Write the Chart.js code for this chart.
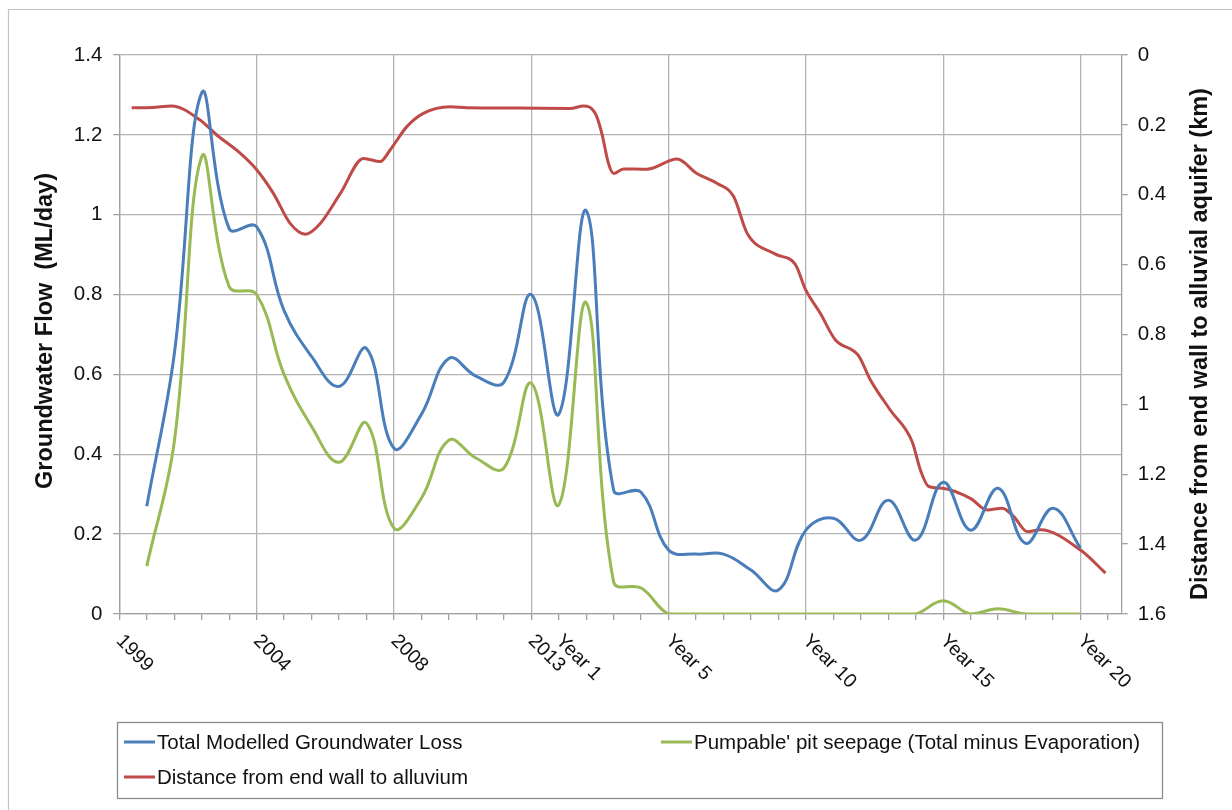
<!DOCTYPE html>
<html>
<head>
<meta charset="utf-8">
<script src="https://cdn.jsdelivr.net/npm/chart.js@4.4.1/dist/chart.umd.min.js"></script>
<style>
  html, body { margin: 0; padding: 0; background: #ffffff; }
  #wrap { position: relative; width: 1232px; height: 810px; }
  canvas { display: block; }
</style>
</head>
<body>
<div id="wrap"><canvas id="c" width="1232" height="810"></canvas></div>
<script>
// ---------- data ----------
// category steps along the x axis (1999 = step 0)
const steps = [1,2,3,4,5,6,7,8,9,10,11,12,13,14,15,16,17,18,19,20,21,22,23,24,25,26,27,28,29,30,31,32,33,34,35];
// Total Modelled Groundwater Loss (ML/day)
const totalLoss = [0.27,0.65,1.305,0.965,0.97,0.76,0.645,0.57,0.665,0.415,0.50,0.64,0.595,0.58,0.80,0.50,1.01,0.31,0.305,0.16,0.15,0.15,0.11,0.06,0.21,0.24,0.185,0.285,0.185,0.33,0.21,0.315,0.177,0.265,0.165];
// Pumpable pit seepage (ML/day)
const pitSeepage = [0.12,0.43,1.145,0.82,0.80,0.60,0.47,0.38,0.478,0.215,0.29,0.435,0.39,0.365,0.578,0.273,0.78,0.08,0.065,0,0,0,0,0,0,0,0,0,0,0.033,0,0.013,0,0,0];
// Distance from end wall to alluvium (km) - sampled positions and values
const distanceSteps = [0.45,1.2,1.91,2.94,3.55,4.40,5.01,5.61,6.22,6.77,7.32,8.05,8.89,9.50,9.86,10.47,11.07,12.05,12.66,14.5,16.42,16.90,17.33,17.57,17.81,18.0,18.36,19.21,20.31,21.03,21.76,22.37,22.86,23.89,24.62,24.98,25.53,26.07,26.91,27.35,28.07,28.87,29.17,29.47,29.96,30.99,31.60,32.15,32.57,33.06,33.54,35.0,35.91];
const distanceKm = [0.151,0.150,0.146,0.186,0.229,0.281,0.329,0.396,0.482,0.513,0.482,0.396,0.296,0.305,0.272,0.205,0.167,0.148,0.151,0.152,0.153,0.146,0.167,0.224,0.31,0.339,0.326,0.327,0.298,0.339,0.367,0.405,0.51,0.57,0.6,0.67,0.74,0.815,0.86,0.93,1.016,1.107,1.188,1.235,1.24,1.269,1.302,1.297,1.321,1.364,1.359,1.417,1.483];
// x axis tick labels and their steps
const xTickLabels = ['1999','2004','2008','2013','Year 1','Year 5','Year 10','Year 15','Year 20'];
const xTickSteps = [0,5,10,15,16,20,25,30,35];
// y axis tick labels (by tick value, 0.2 apart)
const leftTickLabels = ['0','0.2','0.4','0.6','0.8','1','1.2','1.4'];
const rightTickLabels = ['0','0.2','0.4','0.6','0.8','1','1.2','1.4','1.6'];
const seriesNames = ['Total Modelled Groundwater Loss', "Pumpable' pit seepage (Total minus Evaporation)", 'Distance from end wall to alluvium'];
const axisTitles = ['Groundwater Flow  (ML/day)', 'Distance from end wall to alluvial aquifer (km)'];

// ---------- styles ----------
const FONT = '"Liberation Sans", Arial, Helvetica, sans-serif';
const COLORS = ['#4A7EBB', '#98B954', '#BE4B48'];
const GRID = '#b3b3b3';
const AXIS = '#a0a0a0';
const TEXT = '#111111';

const blueData = steps.map((s, i) => ({x: s, y: totalLoss[i]}));
const greenData = steps.map((s, i) => ({x: s, y: pitSeepage[i]}));
const redData = distanceSteps.map((s, i) => ({x: s, y: distanceKm[i]}));

const decor = {
  id: 'decor',
  beforeDraw(chart) {
    const c = chart.ctx;
    c.save();
    c.fillStyle = '#ffffff';
    c.fillRect(0, 0, chart.width, chart.height);
    c.strokeStyle = '#c4c4c4';
    c.lineWidth = 1.2;
    c.beginPath();
    c.moveTo(8.5, chart.height);
    c.lineTo(8.5, 9.5);
    c.lineTo(chart.width, 9.5);
    c.stroke();
    c.restore();
  },
  afterDraw(chart) {
    const c = chart.ctx;
    const xs = chart.scales.x;
    c.save();
    c.fillStyle = TEXT;
    c.font = '19.5px ' + FONT;
    c.textAlign = 'left';
    c.textBaseline = 'middle';
    xTickLabels.forEach((lab, i) => {
      const px = xs.getPixelForValue(xTickSteps[i]);
      c.save();
      c.translate(px, 638);
      c.rotate(Math.PI / 4);
      c.fillText(lab, 0, 0);
      c.restore();
    });
    c.font = 'bold 23.5px ' + FONT;
    c.textAlign = 'center';
    c.textBaseline = 'middle';
    c.save();
    c.translate(46, 331);
    c.rotate(-Math.PI / 2);
    c.fillText(axisTitles[0], 0, 0);
    c.restore();
    c.save();
    c.translate(1201, 344);
    c.rotate(-Math.PI / 2);
    c.fillText(axisTitles[1], 0, 0);
    c.restore();
    // legend
    c.strokeStyle = '#8c8c8c';
    c.lineWidth = 1.3;
    c.strokeRect(117.5, 722.5, 1045, 76);
    const entries = [
      {x: 124, y: 742, color: COLORS[0], text: seriesNames[0]},
      {x: 661, y: 742, color: COLORS[1], text: seriesNames[1]},
      {x: 124, y: 777, color: COLORS[2], text: seriesNames[2]}
    ];
    c.font = '20.5px ' + FONT;
    c.textAlign = 'left';
    c.textBaseline = 'middle';
    entries.forEach(e => {
      c.strokeStyle = e.color;
      c.lineWidth = 3;
      c.beginPath();
      c.moveTo(e.x, e.y);
      c.lineTo(e.x + 31, e.y);
      c.stroke();
      c.fillStyle = TEXT;
      c.fillText(e.text, e.x + 33, e.y + 1);
    });
    c.restore();
  }
};

new Chart(document.getElementById('c'), {
  type: 'line',
  data: {
    datasets: [
      {label: seriesNames[0], data: blueData, yAxisID: 'y', borderColor: COLORS[0], borderWidth: 3, pointRadius: 0, tension: 0.4, fill: false},
      {label: seriesNames[1], data: greenData, yAxisID: 'y', borderColor: COLORS[1], borderWidth: 3, pointRadius: 0, tension: 0.4, fill: false},
      {label: seriesNames[2], data: redData, yAxisID: 'y2', borderColor: COLORS[2], borderWidth: 3, pointRadius: 0, cubicInterpolationMode: 'monotone', fill: false}
    ]
  },
  options: {
    responsive: false,
    animation: false,
    devicePixelRatio: 1,
    layout: {padding: {top: 55, left: 0, right: 0, bottom: 0}},
    plugins: {legend: {display: false}, tooltip: {enabled: false}},
    scales: {
      x: {
        type: 'linear', min: 0, max: 36.5,
        ticks: {stepSize: 1, display: false, includeBounds: false},
        grid: {
          color: (ctx) => (ctx.tick && Math.abs(ctx.tick.value % 5) < 1e-6) ? GRID : 'rgba(0,0,0,0)',
          tickColor: AXIS, tickLength: 6, lineWidth: 1.3
        },
        border: {color: AXIS, width: 1.3},
        afterFit: (s) => { s.height = 196; }
      },
      y: {
        position: 'left', min: 0, max: 1.4,
        ticks: {stepSize: 0.2, padding: 11, color: TEXT, font: {family: FONT, size: 20.5},
          callback: (v) => leftTickLabels[Math.round(v * 5)]},
        grid: {color: GRID, tickColor: AXIS, tickLength: 6, lineWidth: 1.3},
        border: {color: AXIS, width: 1.3},
        afterFit: (s) => { s.width = 119.3; }
      },
      y2: {
        position: 'right', min: 0, max: 1.6, reverse: true,
        ticks: {stepSize: 0.2, padding: 10, color: TEXT, font: {family: FONT, size: 20.5},
          callback: (v) => rightTickLabels[Math.round(v * 5)]},
        grid: {drawOnChartArea: false, tickColor: AXIS, tickLength: 6, lineWidth: 1.3},
        border: {color: AXIS, width: 1.3},
        afterFit: (s) => { s.width = 110.3; }
      }
    }
  },
  plugins: [decor]
});
</script>
</body>
</html>
